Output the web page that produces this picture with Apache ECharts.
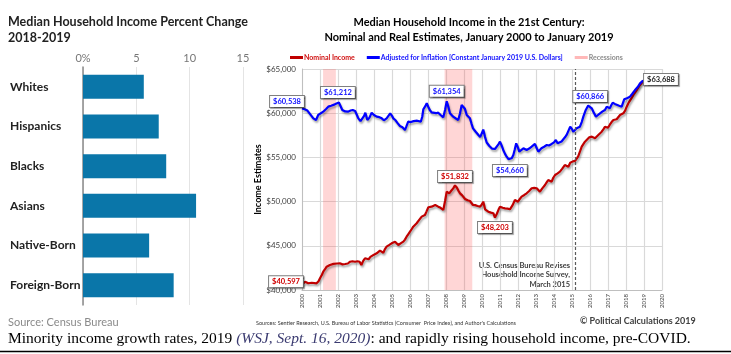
<!DOCTYPE html>
<html><head><meta charset="utf-8">
<script src="https://cdn.jsdelivr.net/npm/echarts@6/dist/echarts.min.js"></script>
<style>html,body{margin:0;padding:0;background:#fff}#c{width:731px;height:354px}</style>
</head><body><div id="c"></div>
<script>
// ---------- Left panel data ----------
const categories = ['Whites','Hispanics','Blacks','Asians','Native-Born','Foreign-Born'];
const pctChange = [5.7, 7.1, 7.8, 10.6, 6.2, 8.5];
const pctTickLabels = ['0%','5','10','15'];

// ---------- Right panel data (decimal years) ----------
const realYears = [2000.00,2000.15,2000.30,2000.45,2000.63,2000.78,2000.90,2001.05,2001.18,2001.35,2001.46,2001.55,2001.62,2001.72,2001.82,2001.93,2002.05,2002.15,2002.24,2002.40,2002.55,2002.70,2002.82,2002.95,2003.05,2003.13,2003.25,2003.32,2003.45,2003.52,2003.63,2003.75,2003.87,2004.00,2004.15,2004.30,2004.43,2004.55,2004.62,2004.70,2004.80,2004.90,2005.00,2005.07,2005.20,2005.30,2005.44,2005.58,2005.72,2005.80,2005.90,2006.05,2006.20,2006.30,2006.40,2006.50,2006.60,2006.68,2006.74,2006.85,2006.93,2007.02,2007.10,2007.20,2007.30,2007.45,2007.57,2007.70,2007.85,2007.95,2008.04,2008.12,2008.22,2008.32,2008.40,2008.55,2008.68,2008.78,2008.87,2008.96,2009.05,2009.15,2009.25,2009.33,2009.42,2009.50,2009.65,2009.80,2009.90,2009.98,2010.07,2010.17,2010.26,2010.41,2010.55,2010.63,2010.72,2010.80,2010.92,2011.00,2011.10,2011.18,2011.28,2011.37,2011.47,2011.55,2011.65,2011.74,2011.82,2011.90,2012.00,2012.07,2012.18,2012.30,2012.40,2012.48,2012.62,2012.76,2012.85,2012.94,2013.05,2013.13,2013.22,2013.30,2013.45,2013.60,2013.72,2013.87,2014.00,2014.10,2014.20,2014.30,2014.42,2014.52,2014.62,2014.70,2014.80,2014.90,2015.00,2015.07,2015.17,2015.26,2015.35,2015.44,2015.54,2015.63,2015.75,2015.90,2016.00,2016.10,2016.20,2016.33,2016.45,2016.55,2016.70,2016.83,2016.93,2017.02,2017.10,2017.18,2017.26,2017.38,2017.48,2017.62,2017.76,2017.90,2018.05,2018.22,2018.35,2018.50,2018.65,2018.78,2018.90,2019.00];
const realValues = [60538,60450,60300,59900,59420,59230,59800,60000,60170,60500,60740,60930,60850,60650,61000,61100,61212,61150,60360,60200,60170,60300,60360,60250,59800,59420,59100,59040,59700,60060,59230,59500,60060,59800,59610,59550,59420,59200,59040,59420,59600,59990,59700,59420,59200,58900,58550,58400,58100,58500,59040,59000,59100,59000,59150,59000,59040,59600,60440,60800,61120,60700,60360,60100,59910,60000,60060,59800,59530,60400,61354,60800,59990,59800,59610,59400,59230,60000,60930,61120,60500,59800,59600,59420,58800,58290,57900,57540,57300,57160,58150,57300,56690,56290,56000,55840,55950,56140,56500,56780,56300,55840,55400,55080,54800,54660,54900,55270,55900,56590,56100,55650,55800,56030,55900,55840,56000,56220,56300,56520,56000,55650,55800,56030,56200,56400,56350,56520,56700,56970,56600,56400,56800,57050,57300,57540,58000,58470,58200,57910,58100,58290,58350,58470,59000,59610,60300,60866,60700,60550,60100,59610,59800,59990,60200,60360,60740,60600,60550,60900,61190,61050,60930,60850,60740,61570,61700,61870,62200,62620,62950,63380,63600,63688];

const nomYears = [2000.00,2000.08,2000.17,2000.26,2000.35,2000.45,2000.54,2000.65,2000.81,2000.92,2001.00,2001.10,2001.18,2001.28,2001.37,2001.46,2001.55,2001.65,2001.75,2001.83,2001.95,2002.10,2002.25,2002.40,2002.55,2002.67,2002.80,2002.95,2003.08,2003.20,2003.30,2003.40,2003.50,2003.60,2003.70,2003.80,2003.87,2004.00,2004.15,2004.25,2004.33,2004.43,2004.52,2004.60,2004.70,2004.85,2004.98,2005.08,2005.17,2005.28,2005.35,2005.50,2005.63,2005.72,2005.81,2005.90,2006.00,2006.10,2006.18,2006.28,2006.37,2006.50,2006.65,2006.75,2006.83,2006.92,2007.02,2007.10,2007.20,2007.30,2007.40,2007.50,2007.57,2007.70,2007.85,2007.95,2008.04,2008.12,2008.18,2008.28,2008.40,2008.50,2008.60,2008.70,2008.78,2008.90,2009.06,2009.20,2009.33,2009.42,2009.50,2009.62,2009.75,2009.90,2010.00,2010.07,2010.17,2010.27,2010.35,2010.50,2010.63,2010.72,2010.82,2010.92,2011.00,2011.15,2011.28,2011.42,2011.55,2011.70,2011.83,2011.92,2012.00,2012.10,2012.20,2012.35,2012.48,2012.62,2012.76,2012.90,2013.04,2013.13,2013.22,2013.35,2013.50,2013.60,2013.68,2013.78,2013.87,2013.96,2014.06,2014.20,2014.33,2014.45,2014.60,2014.70,2014.80,2014.90,2015.05,2015.17,2015.27,2015.35,2015.45,2015.54,2015.63,2015.72,2015.82,2015.96,2016.10,2016.20,2016.28,2016.37,2016.46,2016.55,2016.65,2016.75,2016.83,2016.92,2017.00,2017.10,2017.20,2017.30,2017.40,2017.48,2017.57,2017.67,2017.76,2017.85,2017.95,2018.04,2018.15,2018.30,2018.45,2018.60,2018.70,2018.78,2018.90,2019.00];
const nomValues = [40597,40800,40940,40850,40760,40850,40820,40800,40760,41000,41330,41700,42070,42350,42640,42700,42830,42800,42950,42940,43000,43020,42900,42940,43000,43200,43250,43200,43250,43200,42830,43300,43590,43500,43480,43750,43960,44000,44150,44300,44450,44400,44220,44600,44900,45100,45280,45400,45470,45300,45090,45300,45470,45700,46030,46300,46600,46900,47160,47350,47550,47900,48300,48400,48490,48900,49360,49400,49430,49550,49620,49500,49430,49300,49050,50100,51120,51100,50930,51200,51500,51832,51600,51200,50930,50700,50300,50150,50070,49900,49620,49600,49500,49430,49700,50000,49130,48950,48860,48750,48680,48203,48600,49100,49430,49300,49240,49200,49130,49600,50180,50100,49990,50300,50560,50750,50940,51200,51510,51550,51510,51300,51120,51500,51880,52200,52440,52300,52250,52700,53010,53200,53390,53700,54140,54050,53950,54400,54550,54600,54900,55150,55700,56210,56500,56780,57000,57270,57350,57200,57160,57000,57540,57700,57910,58200,58470,58300,58360,58700,59000,59230,59250,59310,59420,59800,59850,59990,60300,60740,61200,61680,62200,62620,62950,63190,63500,63688];

const recessionStarts = [2001.17, 2007.92];
const recessionEnds = [2001.88, 2009.46];
const censusRevisionYear = 2015.17;

const realAnnoYears = [2000.00, 2002.05, 2008.04, 2011.55, 2015.90, 2019.00];
const realAnnoValues = [60538, 61212, 61354, 54660, 60866, 63688];
const nomAnnoYears = [2000.00, 2008.50, 2010.72];
const nomAnnoValues = [40597, 51832, 48203];

// ---------- styling / layout (not data) ----------
const realAnnoOffsets = [[-15,-7],[-1,-10],[0,-10],[0,10],[2,-9],[17,-1]];
const realAnnoColors = ['#1010ff','#1010ff','#1010ff','#1010ff','#1010ff','#222'];
const nomAnnoOffsets = [[-16,-3],[0,-9],[0,10]];
const FONT = 'Lato, "Liberation Sans", sans-serif';

const fmt$ = v => '$' + Number(v).toLocaleString('en-US');

function annoPoints(xs, ys, offs, colors, defColor) {
  return xs.map((x, i) => ({
    coord: [x, ys[i]],
    value: ys[i],
    label: {
      show: true, position: 'inside', offset: offs[i],
      formatter: fmt$(ys[i]),
      color: colors ? colors[i] : defColor,
      fontFamily: FONT, fontSize: 7.5, fontWeight: 'bold',
      backgroundColor: '#fff', borderColor: '#7f7f7f', borderWidth: 1,
      padding: [2, 3, 1, 3],
      shadowColor: 'rgba(0,0,0,0.35)', shadowOffsetX: 1, shadowOffsetY: 1, shadowBlur: 1
    }
  }));
}

const chart = echarts.init(document.getElementById('c'), null, {renderer: 'canvas'});
const lineShadow = {shadowColor: 'rgba(0,0,0,0.35)', shadowBlur: 2, shadowOffsetX: 1, shadowOffsetY: 2};

const option = {
  backgroundColor: '#fff',
  animation: false,
  legend: {
    left: 285, top: 49, itemWidth: 13, itemHeight: 3, itemGap: 12, icon: 'rect',
    textStyle: {fontFamily: FONT, fontSize: 7, fontWeight: 'bold', padding: [0,0,0,-4]},
    data: [
      {name: 'Nominal Income', textStyle: {color: '#d01010'}},
      {name: 'Adjusted for Inflation [Constant January 2019 U.S. Dollars]', textStyle: {color: '#1010ff'}},
      {name: 'Recessions', textStyle: {color: '#8c8c8c'}}
    ]
  },
  grid: [
    {left: 83, top: 67, width: 160, height: 238},
    {left: 302, top: 69, width: 360, height: 221}
  ],
  xAxis: [
    {
      gridIndex: 0, type: 'value', position: 'top', min: 0, max: 15, interval: 5,
      axisLine: {show: false}, axisTick: {show: false},
      axisLabel: {formatter: v => pctTickLabels[v / 5], color: '#777', fontFamily: FONT, fontSize: 11, margin: 3},
      splitLine: {show: true, lineStyle: {color: '#e4e4e4', width: 1}}
    },
    {
      gridIndex: 1, type: 'value', min: 2000, max: 2020, interval: 1,
      axisLine: {show: true, lineStyle: {color: '#bfbfbf'}}, axisTick: {show: false},
      axisLabel: {rotate: 90, formatter: v => String(v), color: '#404040', fontFamily: FONT, fontSize: 6, margin: 4},
      splitLine: {show: true, lineStyle: {color: '#d9d9d9', width: 1.2}}
    }
  ],
  yAxis: [
    {
      gridIndex: 0, type: 'category', data: categories, inverse: true,
      axisLine: {show: true, lineStyle: {color: '#8a8a8a', width: 1.5}}, axisTick: {show: false},
      axisLabel: {align: 'left', margin: 73, color: '#222', fontFamily: FONT, fontSize: 12, fontWeight: 'bold'}
    },
    {
      gridIndex: 1, type: 'value', min: 40000, max: 65000, interval: 5000,
      name: 'Income Estimates', nameLocation: 'middle', nameGap: 32, nameRotate: 90,
      nameTextStyle: {fontFamily: FONT, fontSize: 9, fontWeight: 'bold', color: '#000'},
      axisLine: {show: true, lineStyle: {color: '#bfbfbf'}}, axisTick: {show: false},
      axisLabel: {formatter: fmt$, color: '#404040', fontFamily: FONT, fontSize: 8, margin: 6},
      splitLine: {show: true, lineStyle: {color: '#d9d9d9', width: 1.2}}
    }
  ],
  series: [
    {
      type: 'bar', xAxisIndex: 0, yAxisIndex: 0, data: pctChange, barWidth: 24,
      itemStyle: {color: '#0a76a9'}, silent: true
    },
    {
      name: 'Recessions', type: 'line', xAxisIndex: 1, yAxisIndex: 1, data: [],
      color: '#ffb8b8', lineStyle: {color: '#ffb8b8'}
    },
    {
      name: 'Nominal Income', type: 'line', xAxisIndex: 1, yAxisIndex: 1,
      data: nomYears.map((y, i) => [y, nomValues[i]]),
      showSymbol: false, color: '#c00000',
      lineStyle: Object.assign({color: '#c00000', width: 2.2}, lineShadow),
      markArea: {
        silent: true, itemStyle: {color: 'rgba(255,70,70,0.22)'},
        data: recessionStarts.map((s, i) => [{xAxis: s}, {xAxis: recessionEnds[i]}])
      },
      markLine: {
        silent: true, symbol: ['none','none'], label: {show: false},
        lineStyle: {type: [3,2], color: '#595959', width: 1.2},
        data: [{xAxis: censusRevisionYear}]
      },
      markPoint: {
        symbol: 'circle', symbolSize: 1, itemStyle: {color: 'rgba(0,0,0,0)'},
        data: annoPoints(nomAnnoYears, nomAnnoValues, nomAnnoOffsets, null, '#d00000')
      },
      z: 3
    },
    {
      name: 'Adjusted for Inflation [Constant January 2019 U.S. Dollars]', type: 'line', xAxisIndex: 1, yAxisIndex: 1,
      data: realYears.map((y, i) => [y, realValues[i]]),
      showSymbol: false, color: '#0000ff',
      lineStyle: Object.assign({color: '#0000ff', width: 2.2}, lineShadow),
      markPoint: {
        symbol: 'circle', symbolSize: 1, itemStyle: {color: 'rgba(0,0,0,0)'},
        data: annoPoints(realAnnoYears, realAnnoValues, realAnnoOffsets, realAnnoColors)
      },
      z: 4
    }
  ],
  graphic: [
    {type: 'text', left: 8, top: 14, style: {text: 'Median Household Income Percent Change\n2018-2019', fill: '#222', fontFamily: FONT, fontSize: 12.5, fontWeight: 'bold', lineHeight: 16}},
    {type: 'text', left: 8, top: 317, style: {text: 'Source: Census Bureau', fill: '#8a8a8a', fontFamily: FONT, fontSize: 11}},
    {type: 'text', x: 469, y: 15, style: {text: 'Median Household Income in the 21st Century:\nNominal and Real Estimates, January 2000 to January 2019', fill: '#000', fontFamily: FONT, fontSize: 11, fontWeight: 'bold', lineHeight: 15, textAlign: 'center'}},
    {type: 'text', x: 570, y: 261, style: {text: 'U.S. Census Bureau Revises\nHousehold Income Survey,\nMarch 2015', fill: '#404040', fontFamily: FONT, fontSize: 7.5, fontWeight: 'bold', lineHeight: 9.3, textAlign: 'right'}},
    {type: 'text', left: 256, top: 320, style: {text: "Sources: Sentier Research, U.S. Bureau of Labor Statistics (Consumer  Price Index), and Author's Calculations", fill: '#333', fontFamily: FONT, fontSize: 5.5}},
    {type: 'text', left: 580, top: 317, style: {text: '\u00A9 Political Calculations 2019', fill: '#404040', fontFamily: FONT, fontSize: 9, fontWeight: 'bold'}},
    {type: 'text', left: 8, top: 331, style: {
      text: '{n|Minority income growth rates, 2019 }{i|(WSJ, Sept. 16, 2020)}{n|: and rapidly rising household income, pre-COVID.}',
      rich: {
        n: {fill: '#000', fontFamily: '"Liberation Serif", serif', fontSize: 15.5},
        i: {fill: '#3a3a70', fontFamily: '"Liberation Serif", serif', fontSize: 15.5, fontStyle: 'italic'}
      }
    }},
    {type: 'line', shape: {x1: 0, y1: 351.5, x2: 731, y2: 351.5}, style: {stroke: '#000', lineWidth: 1.5}}
  ]
};
chart.setOption(option);
</script>
</body></html>
